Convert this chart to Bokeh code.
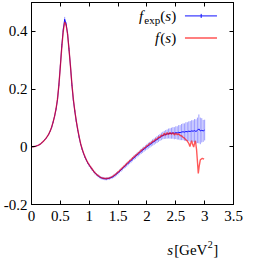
from bokeh.plotting import figure
from bokeh.models import LinearAxis, Label, FixedTicker, CustomLabelingPolicy
from bokeh.embed import file_html
from bokeh.resources import INLINE

# ---- data ----
s_exp = [0.000, 0.025, 0.050, 0.075, 0.100, 0.125, 0.150, 0.175, 0.200, 0.225,
         0.250, 0.275, 0.300, 0.325, 0.350, 0.375, 0.400, 0.425, 0.450, 0.475,
         0.500, 0.525, 0.550, 0.575, 0.600, 0.625, 0.650, 0.675, 0.700, 0.725,
         0.750, 0.775, 0.800, 0.825, 0.850, 0.875, 0.900, 0.925, 0.950, 0.975,
         1.000, 1.025, 1.050, 1.075, 1.100, 1.125, 1.150, 1.175, 1.200, 1.225,
         1.250, 1.275, 1.300, 1.325, 1.350, 1.375, 1.400, 1.425, 1.450, 1.475,
         1.500, 1.525, 1.550, 1.575, 1.600, 1.625, 1.650, 1.675, 1.700, 1.725,
         1.750, 1.775, 1.800, 1.825, 1.850, 1.875, 1.900, 1.925, 1.950, 1.975,
         2.000, 2.025, 2.050, 2.075, 2.100, 2.125, 2.150, 2.175, 2.200, 2.225,
         2.250, 2.275, 2.300, 2.325, 2.350, 2.375, 2.400, 2.425, 2.450, 2.475,
         2.500, 2.525, 2.550, 2.575, 2.600, 2.625, 2.650, 2.675, 2.700, 2.725,
         2.750, 2.775, 2.800, 2.825, 2.850, 2.875, 2.900, 2.925, 2.950, 2.975,
         3.000]
f_exp = [0.000, 0.000, 0.001, 0.002, 0.004, 0.006, 0.009, 0.013, 0.018, 0.023,
         0.029, 0.036, 0.044, 0.055, 0.068, 0.086, 0.106, 0.130, 0.163, 0.215,
         0.280, 0.350, 0.405, 0.442, 0.425, 0.392, 0.338, 0.280, 0.215, 0.163,
         0.124, 0.090, 0.060, 0.034, 0.011, -0.007, -0.022, -0.035, -0.046, -0.056,
         -0.064, -0.071, -0.078, -0.085, -0.091, -0.096, -0.100, -0.104, -0.107, -0.109,
         -0.110, -0.111, -0.111, -0.110, -0.109, -0.107, -0.105, -0.102, -0.098, -0.094,
         -0.090, -0.085, -0.081, -0.076, -0.071, -0.066, -0.062, -0.057, -0.052, -0.048,
         -0.043, -0.038, -0.034, -0.029, -0.025, -0.021, -0.016, -0.012, -0.008, -0.004,
         0.000, 0.004, 0.007, 0.011, 0.015, 0.018, 0.022, 0.025, 0.029, 0.032,
         0.036, 0.039, 0.041, 0.043, 0.044, 0.046, 0.046, 0.047, 0.048, 0.047,
         0.049, 0.048, 0.050, 0.049, 0.051, 0.052, 0.051, 0.053, 0.052, 0.054,
         0.053, 0.055, 0.054, 0.056, 0.053, 0.057, 0.062, 0.055, 0.057, 0.055,
         0.058]
err_exp = [0.001, 0.001, 0.001, 0.001, 0.001, 0.001, 0.002, 0.002, 0.002, 0.002,
           0.002, 0.002, 0.002, 0.002, 0.003, 0.003, 0.003, 0.003, 0.004, 0.004,
           0.005, 0.006, 0.007, 0.008, 0.007, 0.006, 0.005, 0.005, 0.004, 0.004,
           0.004, 0.004, 0.004, 0.004, 0.004, 0.004, 0.004, 0.004, 0.004, 0.004,
           0.005, 0.005, 0.005, 0.005, 0.005, 0.005, 0.005, 0.005, 0.005, 0.005,
           0.005, 0.005, 0.005, 0.005, 0.005, 0.005, 0.005, 0.006, 0.006, 0.006,
           0.006, 0.006, 0.006, 0.006, 0.006, 0.007, 0.007, 0.007, 0.007, 0.007,
           0.007, 0.008, 0.008, 0.008, 0.008, 0.008, 0.009, 0.009, 0.009, 0.009,
           0.010, 0.010, 0.010, 0.010, 0.011, 0.011, 0.011, 0.012, 0.012, 0.012,
           0.013, 0.013, 0.014, 0.015, 0.016, 0.017, 0.018, 0.019, 0.020, 0.021,
           0.022, 0.023, 0.025, 0.026, 0.028, 0.029, 0.030, 0.032, 0.033, 0.034,
           0.036, 0.037, 0.038, 0.040, 0.042, 0.044, 0.050, 0.046, 0.042, 0.038,
           0.036]

s_fit = [0.000, 0.025, 0.050, 0.075, 0.100, 0.125, 0.150, 0.175, 0.200, 0.225,
         0.250, 0.275, 0.300, 0.325, 0.350, 0.375, 0.400, 0.425, 0.450, 0.475,
         0.500, 0.525, 0.550, 0.575, 0.600, 0.625, 0.650, 0.675, 0.700, 0.725,
         0.750, 0.775, 0.800, 0.825, 0.850, 0.875, 0.900, 0.925, 0.950, 0.975,
         1.000, 1.025, 1.050, 1.075, 1.100, 1.125, 1.150, 1.175, 1.200, 1.225,
         1.250, 1.275, 1.300, 1.325, 1.350, 1.375, 1.400, 1.425, 1.450, 1.475,
         1.500, 1.525, 1.550, 1.575, 1.600, 1.625, 1.650, 1.675, 1.700, 1.725,
         1.750, 1.775, 1.800, 1.825, 1.850, 1.875, 1.900, 1.925, 1.950, 1.975,
         2.000, 2.025, 2.050, 2.075, 2.100, 2.125, 2.150, 2.175, 2.200, 2.225,
         2.250, 2.275, 2.300, 2.325, 2.350, 2.375, 2.400, 2.425, 2.450, 2.475,
         2.500, 2.525, 2.550, 2.575, 2.600, 2.625, 2.650, 2.675, 2.700, 2.725,
         2.745, 2.760, 2.775, 2.790, 2.810, 2.825, 2.840, 2.860, 2.875, 2.890,
         2.905, 2.925, 2.960, 2.990]
f_fit = [0.000, 0.000, 0.001, 0.002, 0.004, 0.006, 0.009, 0.013, 0.018, 0.023,
         0.029, 0.036, 0.045, 0.055, 0.069, 0.086, 0.106, 0.131, 0.165, 0.215,
         0.278, 0.345, 0.400, 0.432, 0.422, 0.390, 0.337, 0.280, 0.217, 0.165,
         0.125, 0.091, 0.061, 0.035, 0.012, -0.006, -0.021, -0.034, -0.045, -0.055,
         -0.063, -0.070, -0.077, -0.084, -0.090, -0.095, -0.099, -0.103, -0.106, -0.108,
         -0.109, -0.110, -0.110, -0.109, -0.108, -0.106, -0.103, -0.100, -0.096, -0.092,
         -0.087, -0.083, -0.078, -0.073, -0.068, -0.064, -0.058, -0.054, -0.048, -0.045,
         -0.039, -0.035, -0.030, -0.027, -0.021, -0.018, -0.012, -0.010, -0.004, -0.002,
         0.004, 0.006, 0.012, 0.013, 0.019, 0.020, 0.026, 0.027, 0.033, 0.033,
         0.040, 0.038, 0.047, 0.040, 0.049, 0.042, 0.050, 0.043, 0.049, 0.041,
         0.047, 0.042, 0.045, 0.039, 0.038, 0.033, 0.030, 0.024, 0.020, 0.012,
         0.001, 0.012, 0.021, 0.010, -0.001, 0.012, 0.021, -0.010, -0.050, -0.092,
         -0.068, -0.045, -0.040, -0.043]

x_ticks = [0, 0.5, 1, 1.5, 2, 2.5, 3, 3.5]
x_tick_labels = ["0", "0.5", "1", "1.5", "2", "2.5", "3", "3.5"]
y_ticks = [-0.2, 0, 0.2, 0.4]
y_tick_labels = ["-0.2", "0", "0.2", "0.4"]

FONT = "Liberation Serif"

p = figure(width=246, height=258, x_range=(0, 3.5), y_range=(-0.2, 0.5),
           output_backend="svg", toolbar_location=None,
           min_border_left=28, min_border_right=13, min_border_top=2,
           min_border_bottom=54)
p.xgrid.visible = False
p.ygrid.visible = False
p.outline_line_color = "black"
p.outline_line_width = 1
p.background_fill_color = "white"
p.border_fill_color = "white"


def style_axis(ax, ticks, labels, show):
    ax.ticker = FixedTicker(ticks=ticks)
    ax.major_tick_in = 4
    ax.major_tick_out = 0
    ax.minor_tick_line_color = None
    ax.axis_line_color = "black"
    ax.major_tick_line_color = "black"
    ax.major_label_text_font = FONT
    ax.major_label_text_color = "black"
    if show:
        ax.major_label_overrides = {t: l for t, l in zip(ticks, labels)}
        ax.major_label_text_font_size = "15px"
    else:
        ax.major_label_overrides = {t: "" for t in ticks}
        ax.major_label_text_font_size = "1px"
        ax.major_label_standoff = 0
        ax.major_label_policy = CustomLabelingPolicy(code="return []")


style_axis(p.xaxis[0], x_ticks, x_tick_labels, True)
style_axis(p.yaxis[0], y_ticks, y_tick_labels, True)
p.xaxis[0].major_label_standoff = 6
p.yaxis[0].major_label_standoff = 4

top = LinearAxis()
style_axis(top, x_ticks, x_tick_labels, False)
p.add_layout(top, "above")
right = LinearAxis()
style_axis(right, y_ticks, y_tick_labels, False)
p.add_layout(right, "right")

# error bars + data line
lo = [f - e for f, e in zip(f_exp, err_exp)]
hi = [f + e for f, e in zip(f_exp, err_exp)]
p.segment(x0=s_exp, y0=lo, x1=s_exp, y1=hi, line_color="#5a5aff",
          line_alpha=0.6, line_width=1)
p.line(s_exp, f_exp, line_color="#1010ff", line_width=1)
# model curve
p.line(s_fit, f_fit, line_color="#ff0000", line_width=1.4, line_alpha=0.65)

# ---- legend (manual, gnuplot style: text right, sample to its right) ----
leg_txt_x = 2.507
row1, row2 = 0.4535, 0.377
p.line([2.659, 3.214], [row1, row1], line_color="#1010ff", line_width=1)
p.segment(x0=[2.94], y0=[row1 - 0.007], x1=[2.94], y1=[row1 + 0.007],
          line_color="#1010ff", line_width=1)
p.line([2.659, 3.214], [row2, row2], line_color="#ff0000", line_width=2,
       line_alpha=0.5)


def lab(x, y, text, size="15px", style="normal", align="right", xo=0, yo=0,
        place=None):
    l = Label(x=x, y=y, text=text, text_font=FONT,
              text_font_size=size, text_font_style=style,
              text_align=align, text_baseline="middle",
              x_offset=xo, y_offset=yo, text_color="black")
    if place is None:
        p.add_layout(l)
    else:
        p.add_layout(l, place)


lab(leg_txt_x, row1, ")", xo=0)
lab(leg_txt_x, row1, "s", style="italic", xo=-5)
lab(leg_txt_x, row1, "(", xo=-11)
lab(leg_txt_x, row1, "exp", size="11px", xo=-16, yo=-4)
lab(leg_txt_x, row1, "f", style="italic", xo=-33)

lab(leg_txt_x, row2, ")", xo=0)
lab(leg_txt_x, row2, "s", style="italic", xo=-5)
lab(leg_txt_x, row2, "(", xo=-11)
lab(leg_txt_x, row2, "f", style="italic", xo=-17)

# x axis title s[GeV^2]: side-panel labels are not clipped to the frame;
# the pieces are spread over the bottom and right panels so that the
# frame keeps its size.
xl_x, xl_y = 2.35, -0.2
lab(xl_x, xl_y, "s", style="italic", align="left", xo=0, yo=-45, place="right")
lab(xl_x, xl_y, "[GeV", align="left", xo=7, yo=-45, place="below")
lab(xl_x, xl_y, "2", size="10px", align="left", xo=40.5, yo=-40, place="below")
lab(xl_x, xl_y, "]", align="left", xo=46, yo=-45, place="right")

open("out.html", "w").write(file_html(p, INLINE))
